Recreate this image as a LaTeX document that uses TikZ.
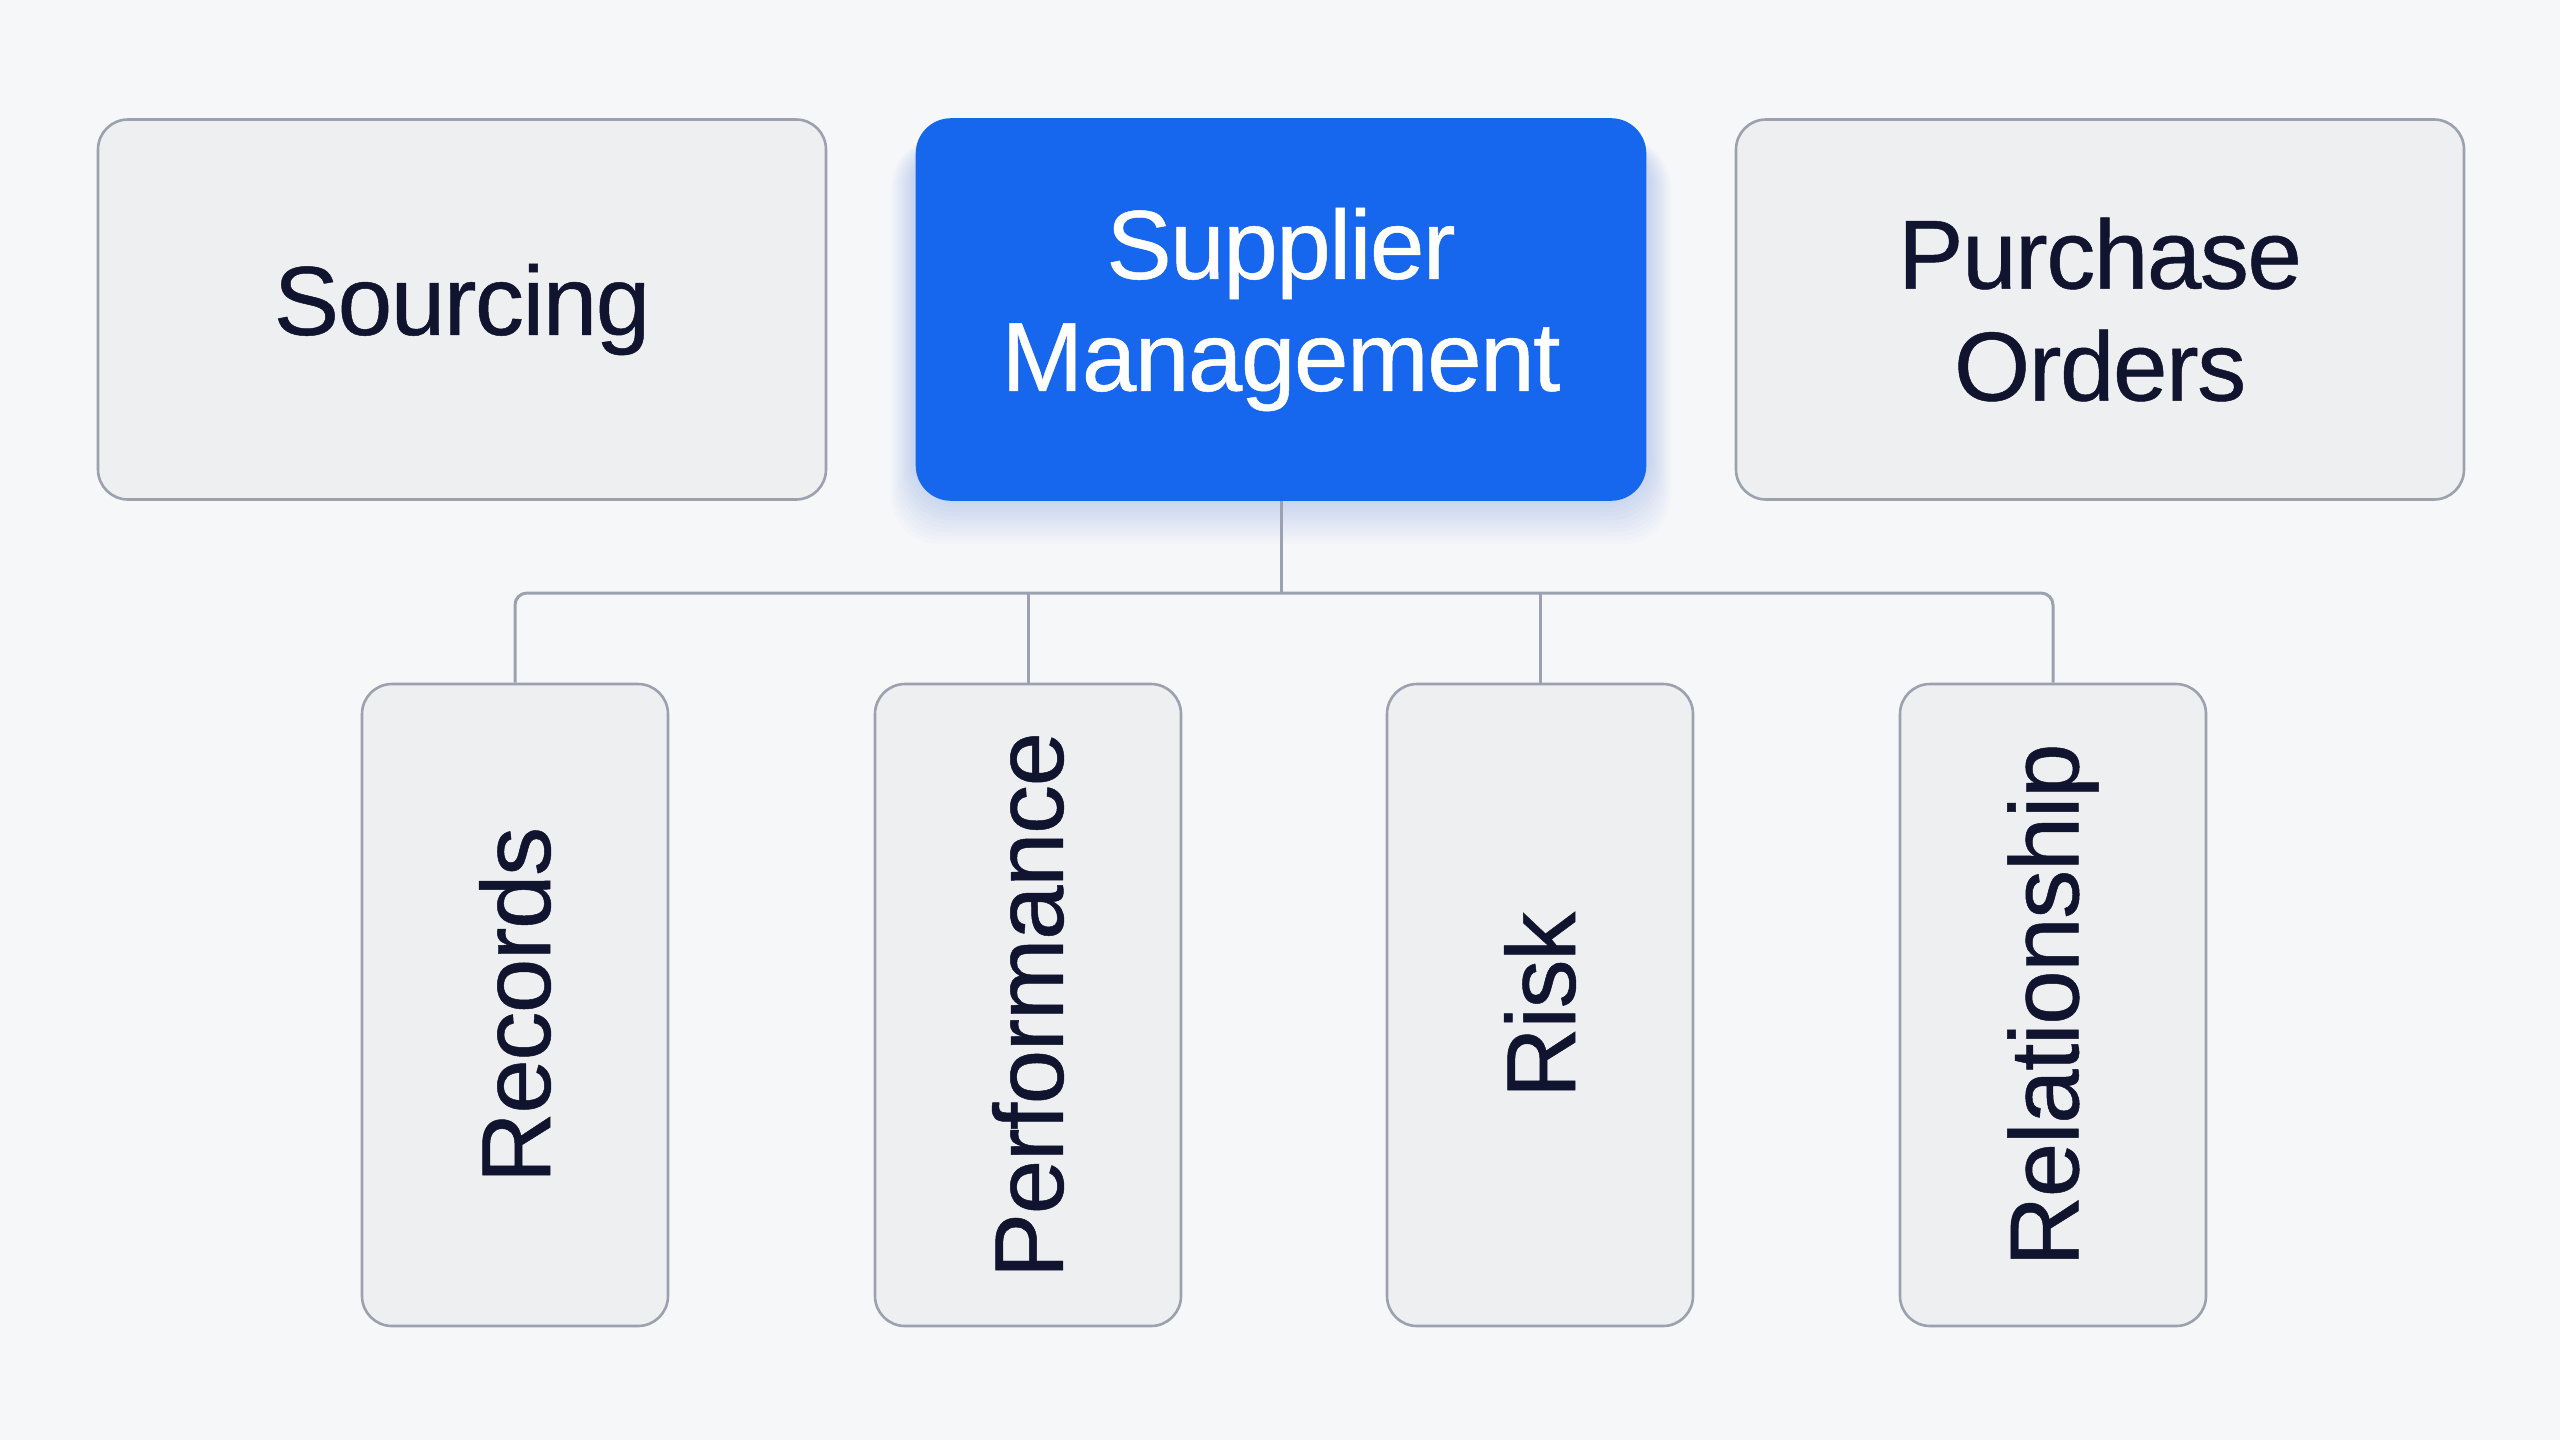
\documentclass[tikz,border=0pt]{standalone}
\usepackage{fontspec}
\setmainfont{Liberation Sans}[LetterSpace=-1.5, FakeBold=0.5]
\usepackage{graphicx}
\definecolor{bgc}{HTML}{F6F7F9}
\definecolor{boxfill}{HTML}{EEEFF1}
\definecolor{boxline}{HTML}{9CA1AF}
\definecolor{mainblue}{HTML}{1766EE}
\definecolor{txt}{HTML}{10142E}
\definecolor{glow}{HTML}{2F6FF0}
\tikzset{
  card/.style={draw=boxline, line width=1.3pt, fill=boxfill, rounded corners=15pt,
    align=center, text=txt, font=\fontsize{49pt}{56pt}\selectfont, inner sep=0pt},
  topcard/.style={card, minimum width=364pt, minimum height=190pt},
  vcard/.style={card, minimum width=153pt, minimum height=321pt},
  maincard/.style={topcard, draw=mainblue, fill=mainblue, text=white, rounded corners=17pt},
  conn/.style={draw=boxline, line width=1.5pt, rounded corners=6pt}
}
\begin{document}
\begin{tikzpicture}[x=0.5pt,y=-0.5pt]
\fill[bgc] (0,0) rectangle (2560,1440);
\useasboundingbox (0,0) rectangle (2560,1440);
% glow under the main card
\foreach \g in {4,8,...,44}{
  \fill[glow, opacity=0.018, rounded corners=24pt] (913-\g*0.5,119+20) rectangle (1649+\g*0.5,500+\g*1.0);
}
\node[topcard] (src) at (462,309.5) {Sourcing};
\node[maincard] (sup) at (1281,309.5) {Supplier\\Management};
\node[topcard] (po) at (2100,309.5) {Purchase\\Orders};
\node[vcard] (rec) at (515,1005) {\rotatebox{90}{Records}};
\node[vcard] (perf) at (1028,1005) {\rotatebox{90}{Performance}};
\node[vcard] (risk) at (1540,1005) {\rotatebox{90}{Risk}};
\node[vcard] (rel) at (2053,1005) {\rotatebox{90}{Relationship}};
\coordinate (bus) at (1281,593);
\draw[conn] (sup.south) -- (bus);
\draw[conn] (rec.north) |- (bus) -| (rel.north);
\draw[conn] (perf.north) -- (perf.north |- bus);
\draw[conn] (risk.north) -- (risk.north |- bus);
\end{tikzpicture}
\end{document}
